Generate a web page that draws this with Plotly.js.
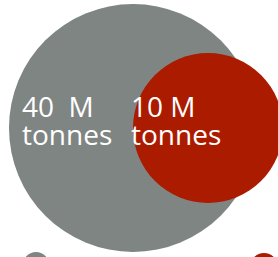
<!DOCTYPE html>
<html>
<head>
<meta charset="utf-8">
<script src="https://cdn.plot.ly/plotly-3.0.1.min.js"></script>
<style>html,body{margin:0;padding:0;background:#fff;overflow:hidden}#chart{width:278px;height:257px}</style>
</head>
<body>
<div id="chart"></div>
<script>
// Data
var categories = ["Total", "Share"];
var values = [40, 10];
var unitLabels = ["M", "M"];
var unitWords = ["tonnes", "tonnes"];

// Layout (pixel-like coordinates), kept separate from data
var colors = ["#7f8582", "#ab1b00"];
var circles = [
  {cx: 133, cy: 128, r: 124},
  {cx: 208, cy: 128, r: 75}
];
var labelPos = [
  {x: 20, y1: 105, y2: 133, sep: "  "},
  {x: 129, y1: 105, y2: 133, sep: " "}
];
var legendDots = [
  {cx: 36, cy: 265, r: 13},
  {cx: 264, cy: 267, r: 14}
];

var shapes = [];
circles.forEach(function (c, i) {
  shapes.push({type: "circle", xref: "x", yref: "y",
    x0: c.cx - c.r, x1: c.cx + c.r, y0: c.cy - c.r, y1: c.cy + c.r,
    fillcolor: colors[i], line: {width: 0}, layer: "below"});
});
legendDots.forEach(function (c, i) {
  shapes.push({type: "circle", xref: "x", yref: "y",
    x0: c.cx - c.r, x1: c.cx + c.r, y0: c.cy - c.r, y1: c.cy + c.r,
    fillcolor: colors[i], line: {width: 0}, layer: "below"});
});

var font = {family: "Open Sans, sans-serif", size: 28, color: "#ffffff"};
var annotations = [];
values.forEach(function (v, i) {
  annotations.push({
    x: labelPos[i].x, y: labelPos[i].y1, xref: "x", yref: "y",
    xanchor: "left", yanchor: "middle", align: "left", valign: "middle",
    height: 27, showarrow: false,
    text: v + labelPos[i].sep + unitLabels[i], font: font
  });
  annotations.push({
    x: labelPos[i].x, y: labelPos[i].y2, xref: "x", yref: "y",
    xanchor: "left", yanchor: "middle", align: "left", valign: "middle",
    height: 27, showarrow: false,
    text: unitWords[i], font: font
  });
});

var layout = {
  width: 278, height: 257,
  margin: {l: 0, r: 0, t: 0, b: 0},
  paper_bgcolor: "#ffffff", plot_bgcolor: "#ffffff",
  xaxis: {range: [0, 278], visible: false, fixedrange: true},
  yaxis: {range: [257, 0], visible: false, fixedrange: true},
  shapes: shapes,
  annotations: annotations,
  showlegend: false
};

Plotly.newPlot("chart", [{x: [], y: [], type: "scatter", mode: "markers", name: categories[0]}], layout, {displayModeBar: false, staticPlot: true});
</script>
</body>
</html>
